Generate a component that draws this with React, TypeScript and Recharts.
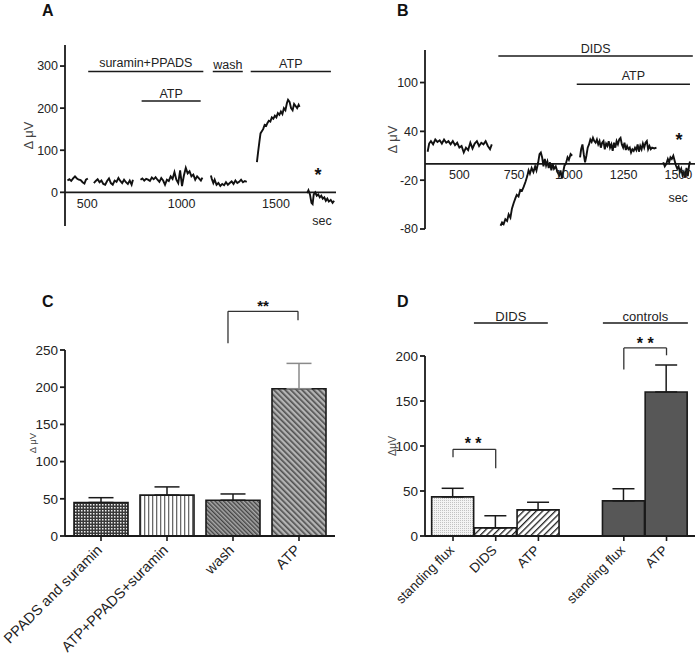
import React from 'react';
import {
  LineChart, Line, BarChart, Bar, XAxis, YAxis, ReferenceLine, ReferenceDot,
  ErrorBar, Cell, Customized,
} from 'recharts';

const FONT = '"Liberation Sans", Arial, Helvetica, sans-serif';
const INK = '#1a1a1a';
const TXT = '#222222';

type Pt = [number, number];

// ---------- Panel A trace (time s, ΔµV) ----------
const A_SEG1: Pt[] = [[395,28],[405,31],[415,27],[425,33],[435,38],[445,33],[455,30],[465,29],[475,24],[485,21],[493,30],[503,33]];
const A_SEG2: Pt[] = [[535,22],[545,27],[555,31],[565,24],[575,28],[585,20],[595,18],[605,27],[615,33],[625,22],[635,18],[645,28],[655,25],[665,34],[675,27],[685,22],[695,30],[705,24],[715,20],[725,28],[735,18],[742,30]];
const A_SEG3: Pt[] = [[782,30],[792,33],[802,28],[812,32],[822,30],[832,27],[842,35],[852,31],[862,36],[872,30],[882,25],[892,34],[902,28],[912,18],[922,30],[932,27],[942,38],[952,32],[962,48],[972,30],[982,22],[992,52],[1002,15],[1012,40],[1022,58],[1032,45],[1042,50],[1052,38],[1062,42],[1072,30],[1082,38],[1092,33],[1102,28],[1110,35]];
const A_SEG4: Pt[] = [[1155,40],[1160,32],[1168,22],[1175,30],[1185,18],[1195,22],[1205,15],[1215,20],[1225,17],[1235,24],[1245,18],[1255,22],[1265,26],[1275,20],[1285,28],[1295,22],[1305,25],[1315,30],[1325,24],[1335,27],[1345,25]];
const A_SEG5: Pt[] = [[1399,72],[1405,95],[1412,120],[1418,140],[1425,145],[1432,150],[1440,160],[1448,158],[1455,165],[1462,170],[1470,168],[1478,178],[1486,175],[1494,182],[1502,178],[1510,188],[1518,184],[1526,192],[1534,186],[1542,200],[1550,195],[1558,212],[1564,220],[1572,215],[1580,200],[1588,195],[1596,210],[1604,205],[1612,200],[1620,208],[1625,203]];
const A_SEG6: Pt[] = [[1665,-2],[1672,5],[1680,-5],[1688,-25],[1694,-28],[1700,-5],[1708,0],[1716,-8],[1724,-5],[1732,-12],[1740,-8],[1748,-15],[1756,-12],[1764,-20],[1772,-15],[1780,-22],[1790,-18],[1800,-25],[1808,-20]];
const A_SEGMENTS: Pt[][] = [A_SEG1, A_SEG2, A_SEG3, A_SEG4, A_SEG5, A_SEG6];
const A_X_TICKS = [500, 1000, 1500];
const A_Y_TICKS = [0, 100, 200, 300];
// treatment periods: [label, start s, end s]
const A_PERIODS: [string, number, number][] = [
  ['suramin+PPADS', 505, 1115],
  ['wash', 1165, 1324],
  ['ATP', 1366, 1791],
  ['ATP', 788, 1101],
];

// ---------- Panel B trace ----------
const B_SEG1: Pt[] = [[355,15],[362,25],[370,28],[380,24],[390,30],[400,27],[410,29],[420,25],[430,30],[440,26],[450,28],[460,24],[470,28],[480,23],[490,26],[500,20],[510,22],[520,14],[530,20],[540,17],[550,26],[560,19],[570,25],[580,28],[590,22],[600,26],[610,24],[620,28],[630,22],[640,18],[648,24]];
const B_SEG2: Pt[] = [[688,-76],[695,-72],[702,-74],[710,-68],[718,-70],[725,-62],[733,-66],[740,-55],[748,-48],[756,-42],[762,-38],[770,-40],[778,-32],[786,-33],[794,-28],[802,-22],[810,-15],[816,-8],[822,-12],[830,-5],[838,-10],[846,-3],[852,-8],[860,2],[866,12],[872,14],[878,8],[884,-3],[890,6],[896,-2],[902,3],[908,-5],[914,2],[920,-8],[926,0],[932,-6],[940,-3],[948,-10],[956,-14],[962,-8],[968,-18],[974,-10],[980,-2],[986,0],[994,8],[1000,5],[1008,12],[1015,10]];
const B_SEG3: Pt[] = [[1051,8],[1056,18],[1062,24],[1068,12],[1074,2],[1080,10],[1086,20],[1092,24],[1098,30],[1104,27],[1110,32],[1116,28],[1122,26],[1128,30],[1134,24],[1140,28],[1146,20],[1152,26],[1158,28],[1164,18],[1170,25],[1176,22],[1182,28],[1188,20],[1194,24],[1200,16],[1206,26],[1212,20],[1218,28],[1224,24],[1230,30],[1236,32],[1242,24],[1248,20],[1254,26],[1260,17],[1266,22],[1272,18],[1278,20],[1284,14],[1290,18],[1296,16],[1302,20],[1308,17],[1314,24],[1320,15],[1326,22],[1332,18],[1338,25],[1344,20],[1350,26],[1356,28],[1362,18],[1368,22],[1374,18],[1380,20],[1390,19],[1400,20]];
const B_SEG4: Pt[] = [[1431,2],[1438,-3],[1445,0],[1452,6],[1458,2],[1464,8],[1470,6],[1477,10],[1483,4],[1489,-2],[1495,-6],[1501,-3],[1507,-10],[1513,-6],[1519,-14],[1525,-10],[1531,-17],[1537,-5],[1543,-15],[1549,-2],[1553,3]];
const B_SEGMENTS: Pt[][] = [B_SEG1, B_SEG2, B_SEG3, B_SEG4];
const B_X_TICKS = [500, 750, 1000, 1250, 1500];
const B_Y_TICKS = [-80, -20, 40, 100];
const B_PERIODS: [string, number, number][] = [
  ['DIDS', 678, 1566],
  ['ATP', 1036, 1553],
];

// ---------- Panel C bars ----------
const C_LABELS = ['PPADS and suramin', 'ATP+PPADS+suramin', 'wash', 'ATP'];
const C_MEANS = [45, 55, 48, 198];
const C_SEM = [6.5, 11, 8.5, 34];
const C_Y_TICKS = [0, 50, 100, 150, 200, 250];

// ---------- Panel D bars ----------
const D_LABELS = ['standing flux', 'DIDS', 'ATP', 'standing flux', 'ATP'];
const D_POS = [1, 2, 3, 5, 6];
const D_MEANS = [43.5, 9, 29, 39, 160];
const D_SEM = [9.5, 13.5, 8.5, 13.5, 30];
const D_Y_TICKS = [0, 50, 100, 150, 200];
const D_GROUPS: [string, number, number][] = [
  ['DIDS', 1.49, 3.22],
  ['controls', 4.51, 6.5],
];

// ---------- helpers ----------
function buildTrace(segments: Pt[][]) {
  const rows: { t: number; v: number | null }[] = [];
  segments.forEach((seg, i) => {
    if (i > 0) {
      const prev = segments[i - 1];
      rows.push({ t: (prev[prev.length - 1][0] + seg[0][0]) / 2, v: null });
    }
    seg.forEach(([t, v]) => rows.push({ t, v }));
  });
  return rows;
}

const aData = buildTrace(A_SEGMENTS);
const bData = buildTrace(B_SEGMENTS);

const C_FILLS = ['url(#pChecker)', 'url(#pVert)', 'url(#pDiagDense)', 'url(#pDiagWide)'];
const cData = C_LABELS.map((label, i) => ({
  pos: i + 1,
  label,
  mean: C_MEANS[i],
  errK: i < 3 ? [0, C_SEM[i]] : undefined,
  errG: i === 3 ? [0, C_SEM[i]] : undefined,
}));

const D_FILLS = ['url(#pDots)', 'url(#pHatch)', 'url(#pHatch)', '#575757', '#575757'];
const dData = D_LABELS.map((label, i) => ({
  pos: D_POS[i],
  label,
  mean: D_MEANS[i],
  err: [0, D_SEM[i]],
}));

const yLabel = (text: string, cx: number, fontSize: number) => ({
  content: (p: any) => {
    const vb = p.viewBox || {};
    const cy = (vb.y ?? 0) + (vb.height ?? 0) / 2;
    return (
      <text x={cx} y={cy} transform={`rotate(-90 ${cx} ${cy})`} textAnchor="middle"
        dominantBaseline="central" fontSize={fontSize} fill="#444" fontFamily={FONT}>{text}</text>
    );
  },
});

const rotTick = (labels: Record<number, string>, fontSize: number) => (props: any) => {
  const { x, y, payload } = props;
  const label = labels[payload.value];
  if (!label) return null;
  const tx = x + 2;
  const ty = y + 10;
  return (
    <g>
      <line x1={x} y1={y - 5} x2={x} y2={y} stroke={INK} strokeWidth={1.6} />
      <text x={tx} y={ty} transform={`rotate(-45 ${tx} ${ty})`} textAnchor="end"
        fontSize={fontSize} fill={TXT} fontFamily={FONT}>{label}</text>
    </g>
  );
};

const letter = (ch: string, x: number, y: number) => (
  <Customized component={<text x={x} y={y} fontSize={16} fontWeight="bold" fill="#111" fontFamily={FONT}>{ch}</text>} />
);

const txtLabel = (value: string, position: any, offset: number, fontSize = 12.5, bold = false) => ({
  value, position, offset, fill: bold ? '#111' : TXT, fontSize, fontFamily: FONT,
  fontWeight: bold ? 'bold' : 'normal',
});

const bracket = (x1: number, x2: number, top: number, leftBottom: number, rightBottom: number, key: string) => [
  <ReferenceLine key={key + 'h'} segment={[{ x: x1, y: top }, { x: x2, y: top }]} stroke="#333" strokeWidth={1.3} ifOverflow="visible" />,
  <ReferenceLine key={key + 'l'} segment={[{ x: x1, y: top }, { x: x1, y: leftBottom }]} stroke="#333" strokeWidth={1.3} ifOverflow="visible" />,
  <ReferenceLine key={key + 'r'} segment={[{ x: x2, y: top }, { x: x2, y: rightBottom }]} stroke="#333" strokeWidth={1.3} ifOverflow="visible" />,
];

const axisStroke = { stroke: INK, strokeWidth: 1.8 };

function PanelA() {
  return (
    <LineChart width={350} height={240} data={aData} margin={{ top: 45, right: 14, bottom: 14, left: 15 }}>
      <XAxis type="number" dataKey="t" domain={[382, 1818]} hide allowDataOverflow />
      <YAxis type="number" domain={[-80, 350]} ticks={A_Y_TICKS} width={50} tickSize={5} tickMargin={2}
        axisLine={axisStroke} tickLine={axisStroke}
        tick={{ fontSize: 12.5, fill: TXT, fontFamily: FONT }}
        label={yLabel('Δ μV', 28, 13)} />
      <ReferenceLine y={0} stroke={INK} strokeWidth={1.6} />
      {A_X_TICKS.map((t) => (
        <ReferenceDot key={'ax' + t} x={t} y={0} r={0} ifOverflow="visible" stroke="none" fill="none"
          label={txtLabel(String(t), 'bottom', 7, 12.5)} />
      ))}
      {A_PERIODS.map(([label, s, e], i) => (
        <ReferenceLine key={'ap' + i} segment={[{ x: s, y: i === 3 ? 217 : 287 }, { x: e, y: i === 3 ? 217 : 287 }]}
          stroke={INK} strokeWidth={1.5} ifOverflow="visible"
          label={txtLabel(label, 'top', [5, 2.5, 4, 3][i])} />
      ))}
      <ReferenceDot x={1723} y={43} r={0} stroke="none" fill="none" ifOverflow="visible"
        label={txtLabel('*', 'center', 0, 18, true)} />
      <ReferenceDot x={1744} y={-67} r={0} stroke="none" fill="none" ifOverflow="visible"
        label={txtLabel('sec', 'center', 0, 12.5)} />
      <Line type="linear" dataKey="v" stroke="#111" strokeWidth={1.9} dot={false} activeDot={false}
        connectNulls={false} isAnimationActive={false} />
      {letter('A', 42, 16)}
    </LineChart>
  );
}

function PanelB() {
  return (
    <LineChart width={348} height={250} data={bData} margin={{ top: 50, right: 3, bottom: 21, left: 25 }}>
      <XAxis type="number" dataKey="t" domain={[343, 1576]} hide allowDataOverflow />
      <YAxis type="number" domain={[-80, 140]} ticks={B_Y_TICKS} width={50} tickSize={5} tickMargin={2}
        axisLine={axisStroke} tickLine={axisStroke}
        tick={{ fontSize: 12.5, fill: TXT, fontFamily: FONT }}
        label={yLabel('Δ μV', 42, 13)} />
      <ReferenceLine y={0} stroke={INK} strokeWidth={1.6} />
      {B_X_TICKS.map((t) => (
        <ReferenceDot key={'bx' + t} x={t} y={0} r={0} ifOverflow="visible" stroke="none" fill="none"
          label={txtLabel(String(t), 'bottom', 6.5, 12.5)} />
      ))}
      {B_PERIODS.map(([label, s, e], i) => (
        <ReferenceLine key={'bp' + i} segment={[{ x: s, y: i === 0 ? 132.5 : 98 }, { x: e, y: i === 0 ? 132.5 : 98 }]}
          stroke={INK} strokeWidth={1.5} ifOverflow="visible"
          label={txtLabel(label, 'top', i === 0 ? 2.7 : 4)} />
      ))}
      <ReferenceDot x={1503} y={30} r={0} stroke="none" fill="none" ifOverflow="visible"
        label={txtLabel('*', 'center', 0, 18, true)} />
      <ReferenceDot x={1499} y={-41} r={0} stroke="none" fill="none" ifOverflow="visible"
        label={txtLabel('sec', 'center', 0, 12.5)} />
      <Line type="linear" dataKey="v" stroke="#111" strokeWidth={1.9} dot={false} activeDot={false}
        connectNulls={false} isAnimationActive={false} />
      {letter('B', 47, 16)}
    </LineChart>
  );
}

function PanelC() {
  const labels: Record<number, string> = {};
  cData.forEach((d) => { labels[d.pos] = d.label; });
  return (
    <BarChart width={350} height={390} data={cData} margin={{ top: 80, right: 15, bottom: 4, left: 15 }}>
      <XAxis type="number" dataKey="pos" domain={[0.4545, 4.5455]} ticks={[1, 2, 3, 4]} height={120}
        tickSize={5} tickMargin={0} axisLine={axisStroke} tickLine={false} tick={rotTick(labels, 14.5)} allowDataOverflow />
      <YAxis type="number" domain={[0, 250]} ticks={C_Y_TICKS} width={50} tickSize={5} tickMargin={2}
        axisLine={axisStroke} tickLine={axisStroke}
        tick={{ fontSize: 13.5, fill: TXT, fontFamily: FONT }}
        label={yLabel('Δ μV', 32, 9.5)} />
      <Bar dataKey="mean" barSize={54} stroke={INK} strokeWidth={1.6} isAnimationActive={false}>
        {cData.map((d, i) => <Cell key={i} fill={C_FILLS[i]} />)}
        <ErrorBar dataKey="errK" direction="y" width={12.5} stroke={INK} strokeWidth={1.5} isAnimationActive={false} />
        <ErrorBar dataKey="errG" direction="y" width={12.5} stroke="#8a8a8a" strokeWidth={1.5} isAnimationActive={false} />
      </Bar>
      {bracket(2.924, 3.985, 302, 259, 290, 'cb')}
      <ReferenceDot x={3.455} y={309} r={0} stroke="none" fill="none" ifOverflow="visible"
        label={txtLabel('**', 'center', 0, 15, true)} />
      {letter('C', 42, 37)}
    </BarChart>
  );
}

function PanelD() {
  const labels: Record<number, string> = {};
  dData.forEach((d) => { labels[d.pos] = d.label; });
  return (
    <BarChart width={348} height={390} data={dData} margin={{ top: 86, right: 3, bottom: 4, left: 25 }}>
      <XAxis type="number" dataKey="pos" domain={[0.344, 6.667]} ticks={D_POS} height={120}
        tickSize={5} tickMargin={0} axisLine={axisStroke} tickLine={false} tick={rotTick(labels, 13.5)} allowDataOverflow />
      <YAxis type="number" domain={[0, 200]} ticks={D_Y_TICKS} width={50} tickSize={5} tickMargin={2}
        axisLine={axisStroke} tickLine={axisStroke}
        tick={{ fontSize: 13.5, fill: TXT, fontFamily: FONT }}
        label={yLabel('ΔμV', 42, 10.5)} />
      <Bar dataKey="mean" barSize={42} stroke={INK} strokeWidth={1.6} isAnimationActive={false}>
        {dData.map((d, i) => <Cell key={i} fill={D_FILLS[i]} />)}
        <ErrorBar dataKey="err" direction="y" width={11} stroke={INK} strokeWidth={1.5} isAnimationActive={false} />
      </Bar>
      {D_GROUPS.map(([label, s, e], i) => (
        <ReferenceLine key={'dg' + i} segment={[{ x: s, y: 236.6 }, { x: e, y: 236.6 }]}
          stroke={INK} strokeWidth={1.5} ifOverflow="visible"
          label={txtLabel(label, 'top', 2.5, 13)} />
      ))}
      {bracket(1, 2, 96.3, 87.4, 75.2, 'dl')}
      {bracket(5, 6, 209, 185, 200.8, 'dr')}
      <ReferenceDot x={1.47} y={103} r={0} stroke="none" fill="none" ifOverflow="visible"
        label={txtLabel('* *', 'center', 0, 16, true)} />
      <ReferenceDot x={5.5} y={214} r={0} stroke="none" fill="none" ifOverflow="visible"
        label={txtLabel('* *', 'center', 0, 16, true)} />
      {letter('D', 47, 37)}
    </BarChart>
  );
}

function Patterns() {
  return (
    <svg width={0} height={0} style={{ position: 'absolute' }}>
      <defs>
        <pattern id="pChecker" width={3} height={3} patternUnits="userSpaceOnUse">
          <rect width={3} height={3} fill="#3a3a3a" />
          <rect x={0} y={0} width={1.5} height={1.5} fill="#eeeeee" />
        </pattern>
        <pattern id="pVert" width={4} height={4} patternUnits="userSpaceOnUse">
          <rect width={4} height={4} fill="#ffffff" />
          <rect x={0} y={0} width={1.3} height={4} fill="#6a6a6a" />
        </pattern>
        <pattern id="pDiagDense" width={3} height={3} patternUnits="userSpaceOnUse" patternTransform="rotate(-45)">
          <rect width={3} height={3} fill="#a8a8a8" />
          <rect width={1.4} height={3} fill="#444444" />
        </pattern>
        <pattern id="pDiagWide" width={4} height={4} patternUnits="userSpaceOnUse" patternTransform="rotate(-45)">
          <rect width={4} height={4} fill="#b4b4b4" />
          <rect width={1.6} height={4} fill="#4e4e4e" />
        </pattern>
        <pattern id="pDots" width={2} height={2} patternUnits="userSpaceOnUse">
          <rect width={2} height={2} fill="#f3f3f3" />
          <rect width={1} height={1} fill="#c2c2c2" />
        </pattern>
        <pattern id="pHatch" width={4.5} height={4.5} patternUnits="userSpaceOnUse" patternTransform="rotate(45)">
          <rect width={4.5} height={4.5} fill="#ffffff" />
          <rect width={1.3} height={4.5} fill="#222222" />
        </pattern>
      </defs>
    </svg>
  );
}

export default function App() {
  return (
    <div style={{ position: 'absolute', left: 0, top: 0, width: 698, height: 660, background: '#fff', fontFamily: FONT }}>
      <Patterns />
      <div style={{ position: 'absolute', left: 0, top: 0 }}><PanelA /></div>
      <div style={{ position: 'absolute', left: 350, top: 0 }}><PanelB /></div>
      <div style={{ position: 'absolute', left: 0, top: 270 }}><PanelC /></div>
      <div style={{ position: 'absolute', left: 350, top: 270 }}><PanelD /></div>
    </div>
  );
}
